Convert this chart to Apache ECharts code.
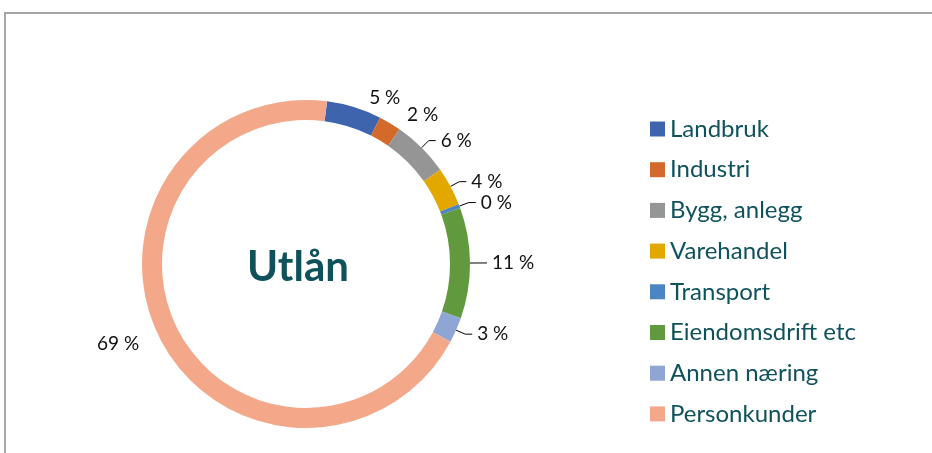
<!DOCTYPE html>
<html>
<head>
<meta charset="utf-8">
<script src="https://cdn.jsdelivr.net/npm/echarts@6/dist/echarts.min.js"></script>
<style>
  html, body { margin: 0; padding: 0; background: #fff; overflow: hidden; }
  #frame {
    position: absolute; left: 4px; top: 12px; width: 1000px; height: 500px;
    border-top: 2px solid #a6a6a6; border-left: 2px solid #a6a6a6;
  }
  #chart { position: absolute; left: 0; top: 0; width: 932px; height: 453px; }
</style>
</head>
<body>
<div id="frame"></div>
<div id="chart"></div>
<script>
// sector names, shares (percent of lending) and colours
const categories = ["Landbruk", "Industri", "Bygg, anlegg", "Varehandel", "Transport", "Eiendomsdrift etc", "Annen næring", "Personkunder"];
const shares = [5.4, 2.2, 5.6, 3.8, 0.4, 10.9, 2.5, 69.2];
const colors = ["#3e64ae", "#d36a2b", "#959595", "#e3a800", "#4b86c0", "#619a3e", "#8fa5d4", "#f2a889"];
// labels without a leader line in the original
const noLine = ["Landbruk", "Industri", "Personkunder"];

const font = "Lato, 'Open Sans', sans-serif";
const teal = "#0f525b";

const chart = echarts.init(document.getElementById("chart"));
chart.setOption({
  animation: false,
  color: colors,
  graphic: [{
    type: "text",
    x: 298,
    y: 267,
    style: {
      text: "Utlån",
      font: "bold 42px " + font,
      fill: teal,
      align: "center",
      verticalAlign: "middle"
    }
  }],
  legend: {
    orient: "vertical",
    left: 645,
    top: 112,
    icon: "rect",
    itemWidth: 15,
    itemHeight: 15,
    itemGap: 16.7,
    textStyle: { fontFamily: font, fontSize: 24, color: teal, lineHeight: 24 },
    data: categories
  },
  series: [{
    type: "pie",
    center: [306, 264],
    radius: [144, 164],
    startAngle: 82.6,
    clockwise: true,
    avoidLabelOverlap: false,
    label: {
      show: true,
      position: "outside",
      fontFamily: font,
      fontSize: 19,
      color: "#111",
      formatter: (p) => Math.round(p.percent) + " %"
    },
    labelLine: {
      show: true,
      length: 10,
      length2: 7,
      lineStyle: { color: "#000", width: 1 }
    },
    data: categories.map((name, i) => ({
      name,
      value: shares[i],
      labelLine: { show: noLine.indexOf(name) < 0 }
    }))
  }]
});
</script>
</body>
</html>
